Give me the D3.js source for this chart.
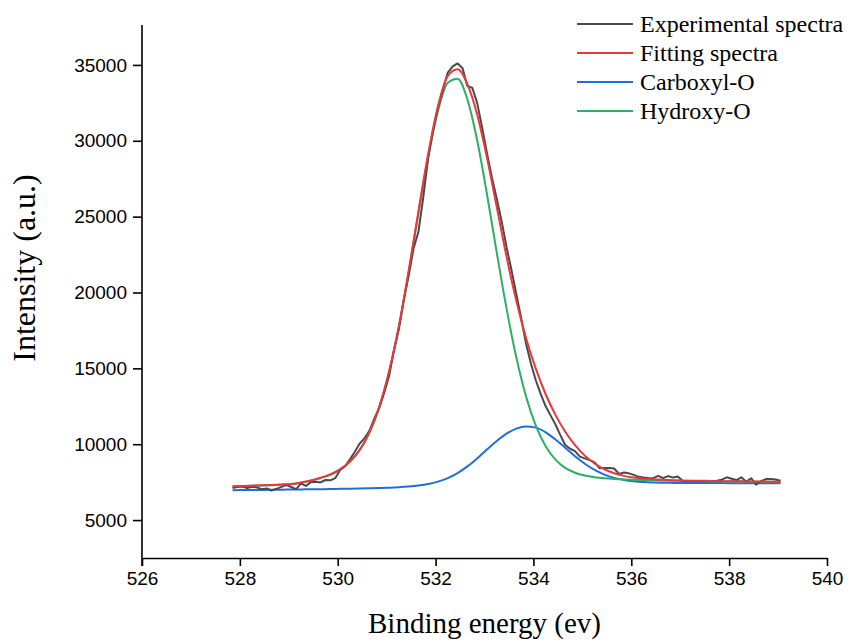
<!DOCTYPE html>
<html>
<head>
<meta charset="utf-8">
<script src="https://cdn.jsdelivr.net/npm/d3@7"></script>
<style>
  body { margin: 0; background: #fff; }
  svg text { fill: #000; }
  .tick text { font-family: "Liberation Sans", Arial, sans-serif; font-size: 19px; }
  .serif { font-family: "Liberation Serif", "Times New Roman", serif; font-size: 24px; }
</style>
</head>
<body>
<svg id="chart" width="854" height="644"></svg>
<script>
// fitted components, 0.2 eV grid
const fitEnergy = [527.85, 528.05, 528.25, 528.45, 528.65, 528.85, 529.05, 529.25, 529.45, 529.65,
  529.85, 530.05, 530.25, 530.45, 530.65, 530.85, 531.05, 531.25, 531.45, 531.65,
  531.85, 532.05, 532.25, 532.45, 532.65, 532.85, 533.05, 533.25, 533.45, 533.65,
  533.85, 534.05, 534.25, 534.45, 534.65, 534.85, 535.05, 535.25, 535.45, 535.65,
  535.85, 536.05, 536.25, 536.45, 536.65, 536.85, 537.05, 537.25, 537.45, 537.65,
  537.85, 538.05, 538.25, 538.45, 538.65, 538.85, 539.05];

const fitting = [7230, 7247, 7268, 7290, 7316, 7345, 7380, 7476, 7613, 7794,
  8011, 8354, 8866, 9639, 10799, 12481, 14802, 17790, 21428, 25363,
  29159, 32297, 34274, 34713, 33731, 31731, 28893, 25641, 22371, 19457,
  16988, 14961, 13294, 11932, 10826, 9942, 9249, 8728, 8349, 8086,
  7913, 7799, 7729, 7683, 7653, 7630, 7613, 7599, 7588, 7577,
  7567, 7559, 7552, 7544, 7539, 7533, 7528];

const carboxyl = [6970, 6976, 6983, 6990, 6997, 7004, 7012, 7020, 7029, 7037,
  7046, 7058, 7069, 7081, 7095, 7111, 7132, 7162, 7206, 7273,
  7375, 7532, 7765, 8100, 8537, 9066, 9648, 10212, 10696, 11030,
  11172, 11092, 10784, 10314, 9764, 9211, 8713, 8305, 7996, 7780,
  7640, 7552, 7502, 7473, 7458, 7450, 7444, 7441, 7439, 7437,
  7436, 7435, 7435, 7433, 7433, 7433, 7432];

const hydroxy = [7220, 7237, 7257, 7278, 7303, 7331, 7365, 7460, 7595, 7775,
  7990, 8330, 8840, 9610, 10765, 12440, 14750, 17719, 21322, 25203,
  28929, 31977, 33824, 34093, 32731, 30031, 26493, 22641, 18951, 15727,
  13138, 11211, 9868, 8989, 8444, 8121, 7932, 7823, 7756, 7711,
  7680, 7654, 7635, 7619, 7605, 7591, 7581, 7571, 7563, 7555,
  7547, 7541, 7535, 7529, 7525, 7520, 7516];

// measured spectrum, 0.1 eV grid
const expEnergy = [527.85, 527.95, 528.05, 528.15, 528.25, 528.35, 528.45, 528.55, 528.65, 528.75,
  528.85, 528.95, 529.05, 529.15, 529.25, 529.35, 529.45, 529.55, 529.65, 529.75,
  529.85, 529.95, 530.05, 530.15, 530.25, 530.35, 530.45, 530.55, 530.65, 530.75,
  530.85, 530.95, 531.05, 531.15, 531.25, 531.35, 531.45, 531.55, 531.65, 531.75,
  531.85, 531.95, 532.05, 532.15, 532.25, 532.35, 532.45, 532.55, 532.65, 532.75,
  532.85, 532.95, 533.05, 533.15, 533.25, 533.35, 533.45, 533.55, 533.65, 533.75,
  533.85, 533.95, 534.05, 534.15, 534.25, 534.35, 534.45, 534.55, 534.65, 534.75,
  534.85, 534.95, 535.05, 535.15, 535.25, 535.35, 535.45, 535.55, 535.65, 535.75,
  535.85, 535.95, 536.05, 536.15, 536.25, 536.35, 536.45, 536.55, 536.65, 536.75,
  536.85, 536.95, 537.05, 537.15, 537.25, 537.35, 537.45, 537.55, 537.65, 537.75,
  537.85, 537.95, 538.05, 538.15, 538.25, 538.35, 538.45, 538.55, 538.65, 538.75,
  538.85, 538.95, 539.05];

const experimental = [7120, 7180, 7210, 7110, 7200, 7150, 7040, 7080, 6950, 7060,
  7190, 7300, 7180, 7040, 7420, 7250, 7500, 7520, 7480, 7640,
  7620, 7760, 8300, 8550, 9000, 9500, 10050, 10400, 10900, 11700,
  12400, 13400, 14500, 16200, 17600, 19500, 21100, 22900, 24000, 26300,
  28900, 30700, 32200, 33400, 34500, 34900, 35100, 34800, 33600, 33500,
  32500, 30900, 29200, 27600, 26200, 24700, 23000, 21500, 19900, 18300,
  16600, 15300, 14200, 13300, 12500, 11900, 11300, 10600, 9950, 9700,
  9550, 9180, 9070, 8950, 8800, 8420, 8430, 8430, 8400, 8040,
  8130, 8080, 7980, 7850, 7800, 7770, 7760, 7910, 7760, 7900,
  7800, 7870, 7590, 7570, 7560, 7570, 7560, 7580, 7570, 7590,
  7660, 7820, 7720, 7640, 7820, 7530, 7760, 7330, 7560, 7700,
  7710, 7680, 7590];

const xTicks = [526, 528, 530, 532, 534, 536, 538, 540];
const yTicks = [5000, 10000, 15000, 20000, 25000, 30000, 35000];
const legendLabels = ["Experimental spectra", "Fitting spectra", "Carboxyl-O", "Hydroxy-O"];
const colors = ["#4a4a4a", "#e8383d", "#1f6fdb", "#2fae66"];

const svg = d3.select("#chart");
const margin = { left: 142, right: 27, top: 25, bottom: 86 };
const W = 854, H = 644;

const x = d3.scaleLinear().domain([526, 540]).range([margin.left, W - margin.right]);
const y = d3.scaleLinear().domain([2500, 37500]).range([H - margin.bottom, 27]);

svg.append("g")
  .attr("transform", `translate(0,${H - margin.bottom})`)
  .call(d3.axisBottom(x).tickValues(xTicks).tickFormat(d3.format("d")).tickSize(8).tickSizeOuter(0).tickPadding(6));

const yAxis = svg.append("g")
  .attr("transform", `translate(${margin.left},0)`)
  .call(d3.axisLeft(y).tickValues(yTicks).tickFormat(d3.format("d")).tickSize(9).tickSizeOuter(0).tickPadding(6));

svg.selectAll(".domain, .tick line").attr("stroke", "#000").attr("stroke-width", 1.6);
// y axis runs a little below the x axis, like the 526 tick
yAxis.select(".domain").attr("d", `M0,${margin.top}V${H - margin.bottom + 8}`);

const line = d3.line()
  .x(d => x(d[0]))
  .y(d => y(d[1]));

const series = [
  { e: expEnergy, v: experimental, curve: d3.curveLinear },
  { e: fitEnergy, v: fitting, curve: d3.curveMonotoneX },
  { e: fitEnergy, v: carboxyl, curve: d3.curveMonotoneX },
  { e: fitEnergy, v: hydroxy, curve: d3.curveMonotoneX }
];

[2, 3, 0, 1].forEach(i => {
  const s = series[i];
  svg.append("path")
    .datum(s.e.map((e, j) => [e, s.v[j]]))
    .attr("fill", "none")
    .attr("stroke", colors[i])
    .attr("stroke-width", 2)
    .attr("stroke-linejoin", "round")
    .attr("d", line.curve(s.curve));
});

// legend
const legend = svg.append("g").attr("transform", "translate(577,24)");
legendLabels.forEach((label, i) => {
  const g = legend.append("g").attr("transform", `translate(0,${i * 29})`);
  g.append("line").attr("x1", 0).attr("x2", 56).attr("stroke", colors[i]).attr("stroke-width", 2);
  g.append("text").attr("class", "serif").attr("x", 63).attr("dy", "0.33em").text(label);
});

svg.append("text")
  .attr("class", "serif")
  .attr("x", (margin.left + W - margin.right) / 2)
  .attr("y", 633)
  .attr("text-anchor", "middle")
  .style("font-size", "29px")
  .text("Binding energy (ev)");

svg.append("text")
  .attr("class", "serif")
  .attr("transform", "translate(35,268) rotate(-90)")
  .attr("text-anchor", "middle")
  .style("font-size", "32px")
  .text("Intensity (a.u.)");
</script>
</body>
</html>
